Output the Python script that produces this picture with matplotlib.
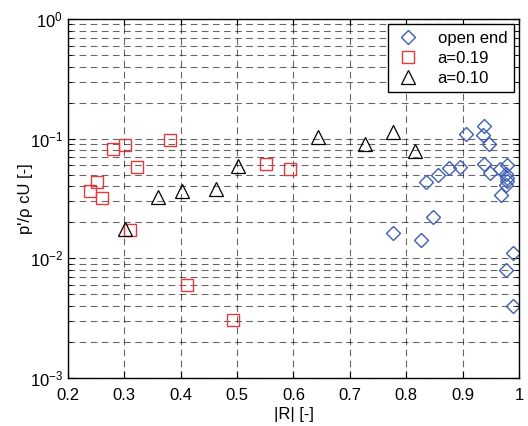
import numpy as np
import matplotlib
matplotlib.use("Agg")
import matplotlib.pyplot as plt
from matplotlib.ticker import LogLocator, NullFormatter

plt.rcParams['font.family'] = ['Liberation Sans', 'DejaVu Sans']

# open end (blue diamonds)
open_R = [0.776, 0.826, 0.835, 0.847, 0.857, 0.876, 0.896, 0.907, 0.938, 0.937,
          0.947, 0.938, 0.949, 0.967, 0.978, 0.977, 0.978, 0.978, 0.977, 0.969,
          0.989, 0.977, 0.989]
open_p = [0.0164, 0.0141, 0.0433, 0.0223, 0.0497, 0.0565, 0.0577, 0.109, 0.128, 0.107,
          0.0898, 0.0615, 0.0514, 0.0555, 0.0603, 0.0507, 0.0467, 0.0446, 0.041, 0.0339,
          0.0110, 0.0080, 0.0040]

# a=0.19 (red squares)
a19_R = [0.239, 0.251, 0.260, 0.280, 0.301, 0.310, 0.322, 0.381, 0.411, 0.493, 0.552, 0.593]
a19_p = [0.0366, 0.0438, 0.0318, 0.082, 0.0886, 0.0173, 0.058, 0.0975, 0.0060, 0.00304, 0.0615, 0.0558]

# a=0.10 (black triangles)
a10_R = [0.301, 0.360, 0.403, 0.463, 0.502, 0.644, 0.727, 0.776, 0.816]
a10_p = [0.0175, 0.0324, 0.0368, 0.0378, 0.0595, 0.103, 0.0898, 0.1145, 0.0794]

xticks = [0.2, 0.3, 0.4, 0.5, 0.6, 0.7, 0.8, 0.9, 1.0]
xticklabels = ['0.2', '0.3', '0.4', '0.5', '0.6', '0.7', '0.8', '0.9', '1']

fig = plt.figure(figsize=(5.28, 4.26), dpi=100)
ax = fig.add_axes([0.1288, 0.1127, 0.854, 0.8427])

ax.plot(open_R, open_p, ls='none', marker='D', ms=7, mfc='none', mec='#3f5fb5',
        mew=1.0, label='open end')
ax.plot(a19_R, a19_p, ls='none', marker='s', ms=8, mfc='none', mec='#e8383a',
        mew=1.0, label='a=0.19')
ax.plot(a10_R, a10_p, ls='none', marker='^', ms=10, mfc='none', mec='black',
        mew=0.9, label='a=0.10')

ax.set_yscale('log')
ax.set_xlim(0.2, 1.0)
ax.set_ylim(1e-3, 1)
ax.set_xticks(xticks)
ax.set_xticklabels(xticklabels)
ax.yaxis.set_major_locator(LogLocator(base=10, numticks=10))
ax.yaxis.set_minor_locator(LogLocator(base=10, subs=np.arange(2, 10), numticks=10))
ax.yaxis.set_minor_formatter(NullFormatter())

ax.grid(True, which='both', ls=(0, (6, 4)), color='black', lw=0.8, alpha=0.6)
ax.tick_params(which='both', direction='in', top=True, right=True, labelsize=12)
ax.tick_params(which='major', length=5)
ax.tick_params(which='minor', length=3)
ax.tick_params(axis='x', pad=7)
for s in ax.spines.values():
    s.set_linewidth(1.0)

ax.set_xlabel('|R| [-]', fontsize=12, labelpad=3)
ax.set_ylabel("p'/\u03c1 cU [-]", fontsize=12, labelpad=-2)

leg = ax.legend(loc='upper right', fontsize=12, frameon=True, fancybox=False,
                edgecolor='black', framealpha=1, borderaxespad=0.3,
                handletextpad=1.0, labelspacing=0.3, borderpad=0.4,
                handlelength=1.6)
leg.get_frame().set_linewidth(1.0)

fig.savefig('out.png', dpi=100)
